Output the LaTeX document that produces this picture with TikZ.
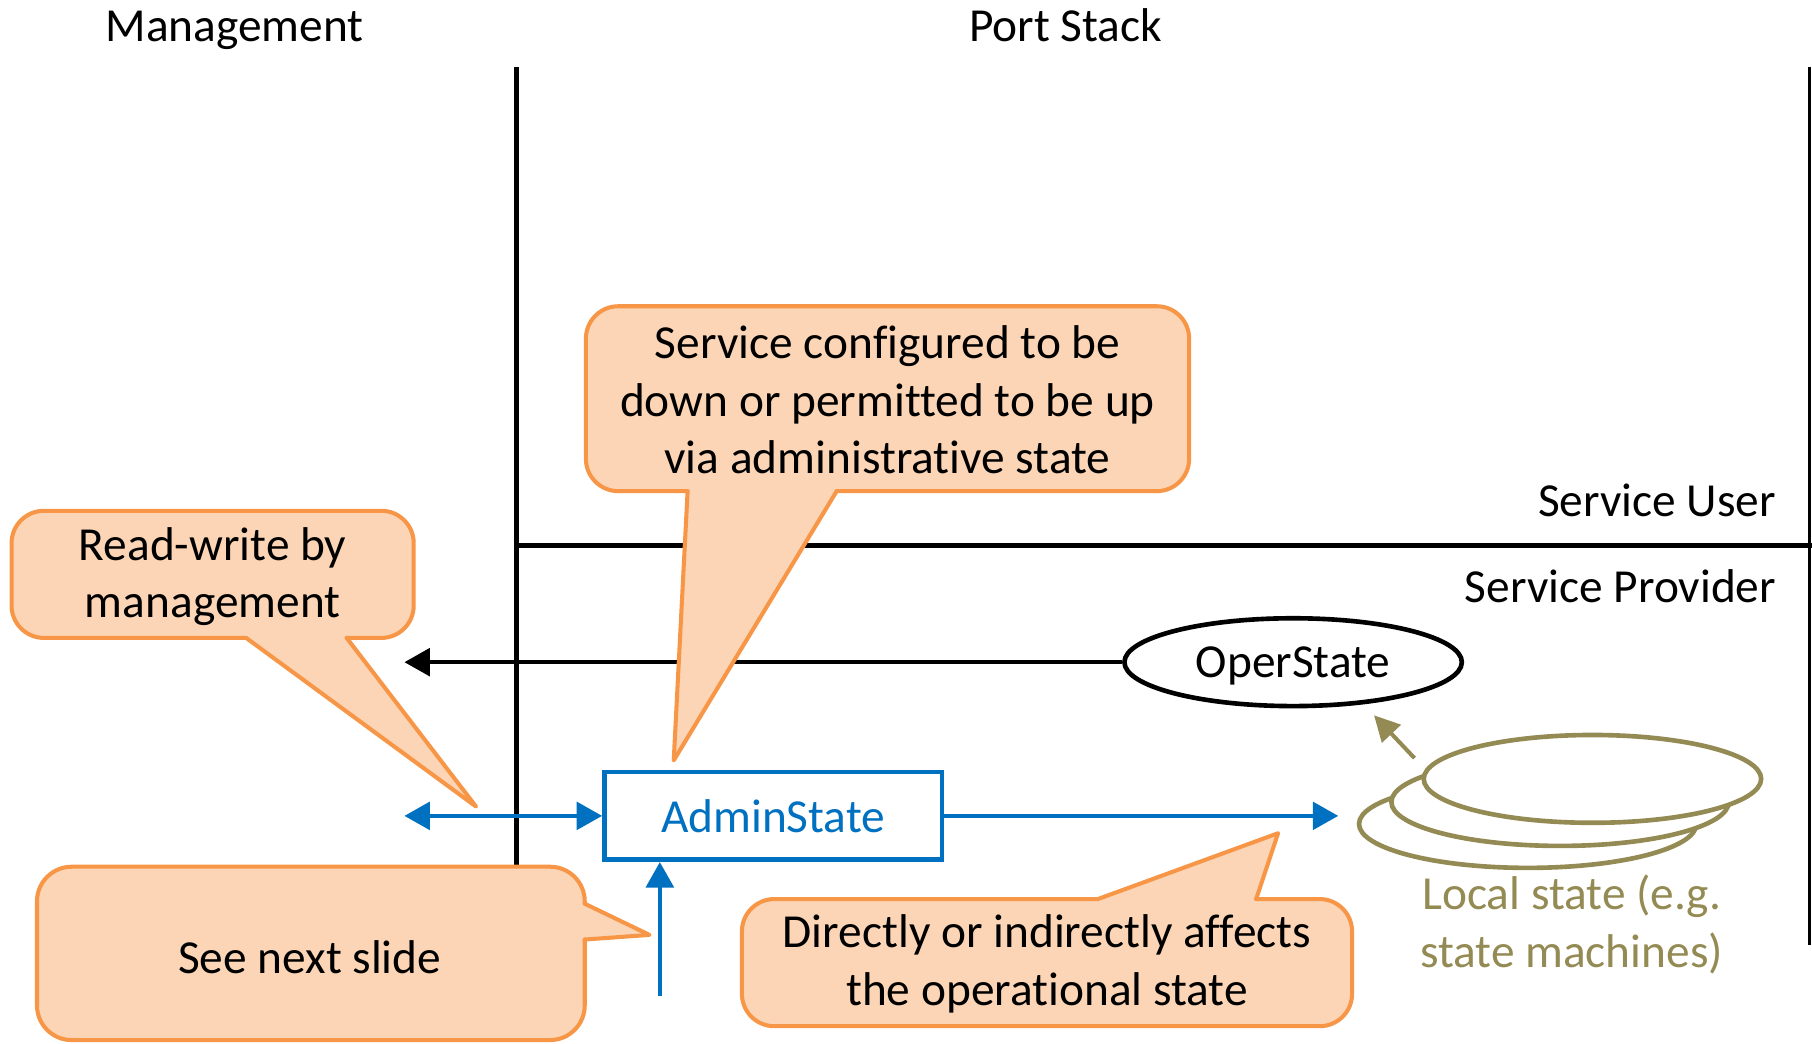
\documentclass[tikz,border=0pt]{standalone}
\usepackage{fontspec}
\setmainfont{Carlito}[Ligatures={NoCommon}]
\usetikzlibrary{arrows.meta,shapes.geometric}
\definecolor{cblue}{HTML}{0070C0}
\definecolor{corange}{HTML}{F79646}
\definecolor{cfill}{HTML}{FBD5B5}
\definecolor{colive}{HTML}{948A54}
\begin{document}
\begin{tikzpicture}[x=1pt,y=-1pt,
  font=\fontsize{41}{50}\selectfont,
  tip/.style={-{Triangle[length=22pt,width=24pt]}},
  bluearrow/.style={cblue,line width=3pt},
  stackell/.style={draw=colive,fill=white,ellipse,line width=4pt,minimum width=292pt,minimum height=76pt,inner sep=0pt},
  cstroke/.style={draw=corange,line width=3.5pt,line join=round,line cap=round},
  cfillst/.style={fill=cfill}]
\useasboundingbox (0,0) rectangle (1568,903);

% headings
\node[anchor=base,inner sep=0pt] (mgmt) at (203,36) {Management};
\node[anchor=base,inner sep=0pt] (port) at (922,36) {Port Stack};
\node[anchor=base east,inner sep=0pt] (su) at (1537,447) {Service User};
\node[anchor=base east,inner sep=0pt] (sp) at (1537,521) {Service Provider};

% structure lines
\coordinate (vtop) at (447,58);
\coordinate (vbot) at (447,770);
\coordinate (rtop) at (1566,58);
\coordinate (rbot) at (1566,818);
\coordinate (hl) at (447,472);
\coordinate (hr) at (1568,472);
\draw[line width=4pt] (vtop) -- (vbot);
\draw[line width=3pt] (rtop) -- (rbot);
\draw[line width=5pt] (hl) -- (hr);

% OperState
\node[draw,ellipse,line width=4pt,minimum width=292pt,minimum height=76pt,inner sep=0pt,text depth=0pt] (oper) at (1119,573) {OperState};
\coordinate (oarr) at (350,573);
\draw[line width=3pt,tip] (oper.west) -- (oarr);

% AdminState
\node[draw=cblue,text=cblue,line width=4pt,minimum width=292pt,minimum height=76pt,inner sep=0pt] (admin) at (669,706) {AdminState};
\coordinate (mleft) at (350,706);
\coordinate (aright) at (1158,706);
\coordinate (abot) at (571,862);
\draw[bluearrow,{Triangle[length=22pt,width=24pt]}-{Triangle[length=22pt,width=24pt]}] (mleft) -- (admin.west);
\draw[bluearrow,tip] (admin.east) -- (aright);
\draw[bluearrow,tip] (abot) -- (abot |- admin.south);

% local state stack
\node[stackell] (ls3) at (1322,713) {};
\node[stackell] (ls2) at (1350,694) {};
\node[stackell] (ls1) at (1378,674) {};
\coordinate (oa1) at (1224,656);
\coordinate (oa2) at (1189,619);
\draw[colive,line width=3.5pt,-{Triangle[length=22pt,width=22pt]}] (oa1) -- (oa2);
\node[text=colive,align=center] (lstxt) at (1360,800) {Local state (e.g.\\state machines)};

% callout 1
\fill[cfillst,rounded corners=28pt] (507,265) rectangle (1029,425);
\fill[cfillst] (595,418) -- (595,425) -- (583,658) -- (724,425) -- (724,418) -- cycle;
\draw[cstroke,rounded corners=28pt] (724,425) -- (1029,425) -- (1029,265) -- (507,265) -- (507,425) -- (595,425);
\draw[cstroke] (595,425) -- (583,658) -- (724,425);
\node[align=center] (c1) at (768,346) {Service configured to be\\down or permitted to be up\\via administrative state};

% callout 2
\fill[cfillst,rounded corners=28pt] (10,442) rectangle (358,552);
\fill[cfillst] (213,545) -- (213,552) -- (412,698) -- (300,552) -- (300,545) -- cycle;
\draw[cstroke,rounded corners=28pt] (300,552) -- (358,552) -- (358,442) -- (10,442) -- (10,552) -- (213,552);
\draw[cstroke] (213,552) -- (412,698) -- (300,552);
\node[align=center] (c2) at (184,499) {Read-write by\\management};

% callout 3
\fill[cfillst,rounded corners=30pt] (32,750) rectangle (506,900);
\fill[cfillst] (499,782) -- (506,782) -- (562,809) -- (506,813) -- (499,813) -- cycle;
\draw[cstroke,rounded corners=30pt] (506,813) -- (506,900) -- (32,900) -- (32,750) -- (506,750) -- (506,782);
\draw[cstroke] (506,782) -- (562,809) -- (506,813);
\node (c3) at (268,828) {See next slide};

% callout 4
\fill[cfillst,rounded corners=28pt] (642,778) rectangle (1170,888);
\fill[cfillst] (950,785) -- (950,778) -- (1106,721) -- (1087,778) -- (1087,785) -- cycle;
\draw[cstroke,rounded corners=28pt] (1087,778) -- (1170,778) -- (1170,888) -- (642,888) -- (642,778) -- (950,778);
\draw[cstroke] (950,778) -- (1106,721) -- (1087,778);
\node[align=center] (c4) at (906,834) {Directly or indirectly affects\\the operational state};
\end{tikzpicture}
\end{document}
